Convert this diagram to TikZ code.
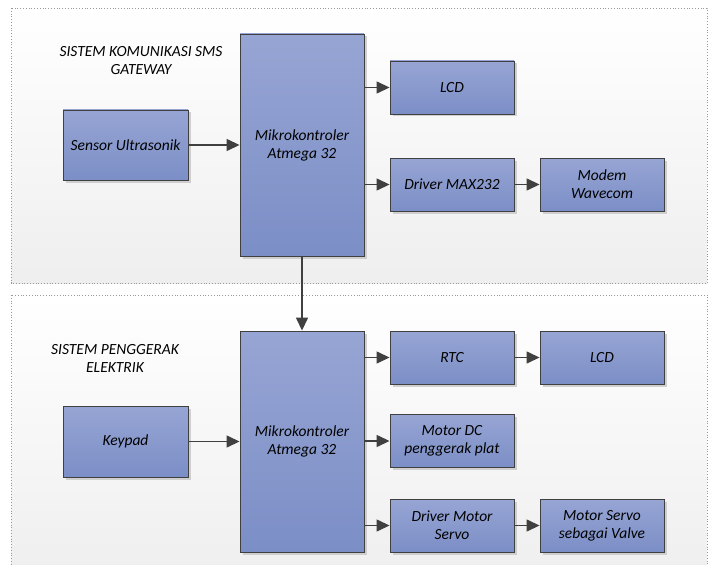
\documentclass[tikz,border=0pt]{standalone}
\usepackage{fontspec}
\setmainfont{Carlito}
\usepackage{xcolor}
\usetikzlibrary{arrows.meta,shadows}
\definecolor{box top}{RGB}{151,165,212}
\definecolor{box bottom}{RGB}{123,142,198}
\definecolor{box edge}{RGB}{64,64,64}
\definecolor{link}{RGB}{64,64,64}
\def\toppanel{(11,8) rectangle (707,283)}
\def\botpanel{(11,295) rectangle (707,580)}
\tikzset{panel/.style={top color=white, bottom color=gray!13, draw=gray!80, dotted, line width=0.8pt},
    block/.style={draw=box edge, line width=0.9pt, top color=box top, bottom color=box bottom,
        minimum width=124pt, minimum height=53pt, align=center, inner sep=2pt,
        drop shadow={shadow xshift=2.5pt, shadow yshift=-2.5pt, fill=gray!45, opacity=0.8}},
    heading/.style={align=center},
    link/.style={draw=link, line width=1.4pt, -{Triangle[length=13pt,width=12pt]}}}

\begin{document}
\begin{tikzpicture}[x=1pt, y=-1pt, font=\fontsize{15.5}{18}\selectfont\itshape]
    \clip (0,0) rectangle (708,564);
    \fill[white] (0,0) rectangle (708,564);
    \draw[panel] \toppanel;
    \draw[panel] \botpanel;

    % sistem komunikasi
    \node[heading] (title1) at (141,60.5) {SISTEM KOMUNIKASI SMS\\GATEWAY};
    \node[block, minimum height=222pt] (mcu1) at (302,145) {Mikrokontroler\\Atmega 32};
    \node[block, minimum height=70pt, minimum width=125pt] (sensor) at (125.5,145) {Sensor Ultrasonik};
    \node[block] (lcd1)   at (452,87.5)  {LCD};
    \node[block] (max232) at (452,184.5) {Driver MAX232};
    \node[block] (modem)  at (602,184.5) {Modem\\Wavecom};

    % sistem penggerak
    \node[heading] (title2) at (115,358.5) {SISTEM PENGGERAK\\ELEKTRIK};
    \node[block, minimum height=221pt] (mcu2) at (302,441.5) {Mikrokontroler\\Atmega 32};
    \node[block, minimum height=71pt, minimum width=125pt] (keypad) at (125.5,441.5) {Keypad};
    \node[block] (rtc)     at (452,357.5) {RTC};
    \node[block] (lcd2)    at (602,357.5) {LCD};
    \node[block] (motordc) at (452,441)   {Motor DC\\penggerak plat};
    \node[block] (drvservo) at (452,525.5) {Driver Motor\\Servo};
    \node[block] (servo)   at (602,525.5) {Motor Servo\\sebagai Valve};

    \draw[link] (sensor) -- (mcu1);
    \draw[link] (mcu1.east |- lcd1) -- (lcd1);
    \draw[link] (mcu1.east |- max232) -- (max232);
    \draw[link] (max232) -- (modem);
    \draw[link] (mcu1.south) -- (mcu2.north);
    \draw[link] (keypad) -- (mcu2);
    \draw[link] (mcu2.east |- rtc) -- (rtc);
    \draw[link] (rtc) -- (lcd2);
    \draw[link] (mcu2.east |- motordc) -- (motordc);
    \draw[link] (mcu2.east |- drvservo) -- (drvservo);
    \draw[link] (drvservo) -- (servo);
\end{tikzpicture}
\end{document}
